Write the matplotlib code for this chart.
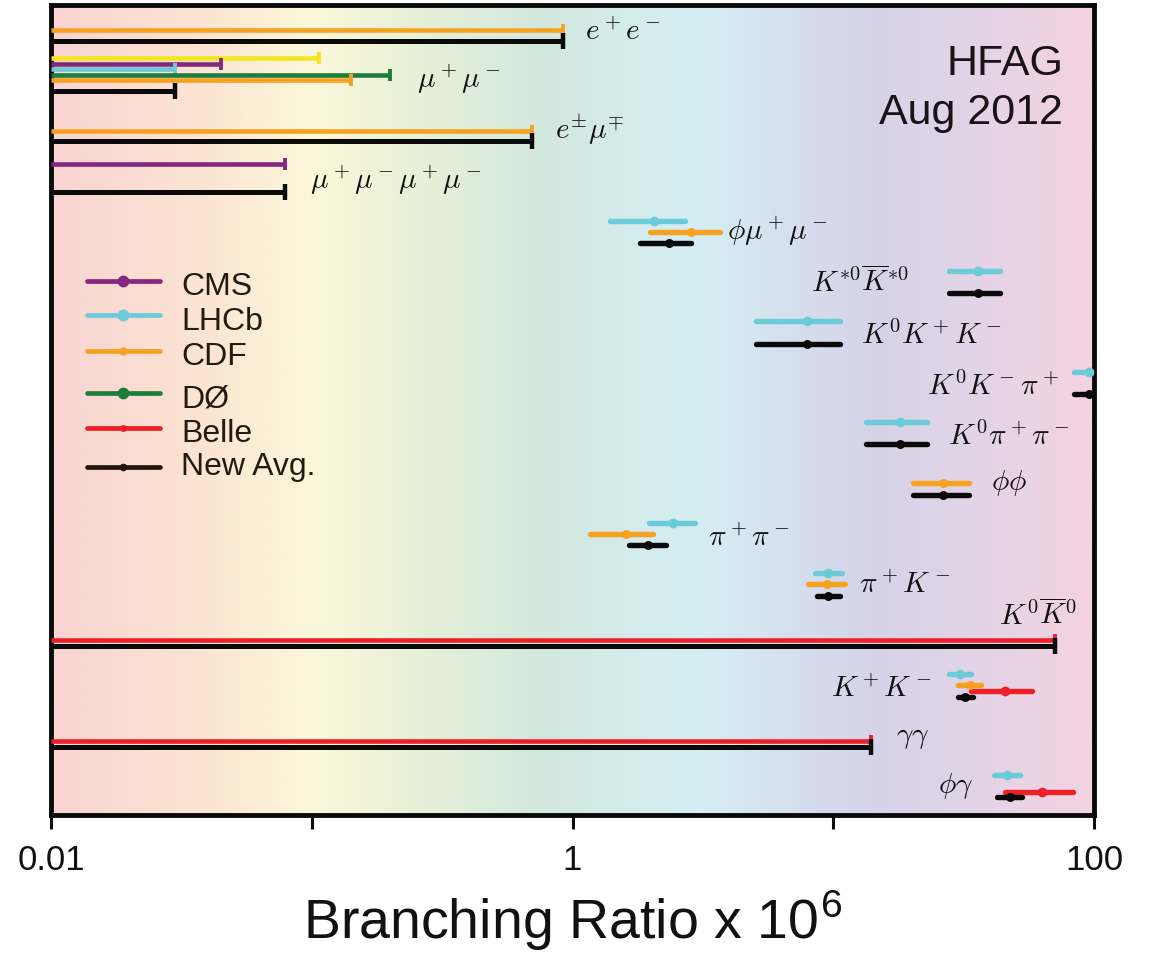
import numpy as np
import matplotlib
matplotlib.use("Agg")
import matplotlib.pyplot as plt
from matplotlib.lines import Line2D
from matplotlib.colors import LinearSegmentedColormap
from matplotlib.ticker import NullLocator

plt.rcParams['font.family'] = ['Liberation Sans', 'DejaVu Sans']
plt.rcParams['mathtext.fontset'] = 'cm'

W, H = 1151, 955

# ---------------- data (branching ratios, units of 1e-6) ----------------
decays = ["ee", "mumu", "emu", "4mu", "phimumu", "KstKst", "K0KK", "K0Kpi",
          "K0pipi", "phiphi", "pipi", "piK", "K0K0", "KK", "gg", "phig"]
decay_labels = [r"$e^+e^-$", r"$\mu^+\mu^-$", r"$e^{\pm}\mu^{\mp}$",
                r"$\mu^+\mu^-\mu^+\mu^-$", r"$\phi\mu^+\mu^-$",
                r"$K^{*0}\overline{K}^{*0}$", r"$K^0K^+K^-$", r"$K^0K^-\pi^+$",
                r"$K^0\pi^+\pi^-$", r"$\phi\phi$", r"$\pi^+\pi^-$", r"$\pi^+K^-$",
                r"$K^0\overline{K}^0$", r"$K^+K^-$", r"$\gamma\gamma$", r"$\phi\gamma$"]

# upper limits
limit_decay = ["ee", "ee", "mumu", "mumu", "mumu", "mumu", "mumu", "mumu",
               "emu", "emu", "4mu", "4mu", "K0K0", "K0K0", "gg", "gg"]
limit_expt = ["CDF", "Avg", "ATLAS", "CMS", "LHCb", "D0", "CDF", "Avg",
              "CDF", "Avg", "CMS", "Avg", "Belle", "Avg", "Belle", "Avg"]
limit_value = [0.92, 0.92, 0.107, 0.045, 0.030, 0.20, 0.142, 0.030,
               0.70, 0.70, 0.079, 0.079, 71.0, 71.0, 14.0, 14.0]

# measurements: central value with the lower and upper edges of the interval
meas_decay = ["phimumu", "phimumu", "phimumu", "KstKst", "KstKst", "K0KK", "K0KK",
              "K0Kpi", "K0Kpi", "K0pipi", "K0pipi", "phiphi", "phiphi",
              "pipi", "pipi", "pipi", "piK", "piK", "piK",
              "KK", "KK", "KK", "KK", "phig", "phig", "phig"]
meas_expt = ["LHCb", "CDF", "Avg", "LHCb", "Avg", "LHCb", "Avg",
             "LHCb", "Avg", "LHCb", "Avg", "CDF", "Avg",
             "LHCb", "CDF", "Avg", "LHCb", "CDF", "Avg",
             "LHCb", "CDF", "Belle", "Avg", "LHCb", "Belle", "Avg"]
meas_value = [2.06, 2.84, 2.34, 35.8, 35.8, 7.9, 7.9,
              95.7, 95.7, 18.0, 18.0, 26.3, 26.3,
              2.42, 1.61, 1.95, 9.58, 9.44, 9.55,
              30.6, 33.4, 45.7, 32.1, 46.4, 63.2, 47.6]
meas_low = [1.39, 1.99, 1.81, 27.8, 27.8, 5.04, 5.04,
            83.8, 83.8, 13.3, 13.3, 20.3, 20.3,
            1.96, 1.17, 1.64, 8.49, 7.98, 8.65,
            27.7, 30.2, 33.7, 30.0, 41.2, 45.5, 42.4]
meas_high = [2.69, 3.67, 2.86, 43.6, 43.6, 10.6, 10.6,
             109.0, 109.0, 22.8, 22.8, 33.1, 33.1,
             2.94, 2.03, 2.28, 10.8, 11.1, 10.6,
             33.7, 36.8, 57.7, 34.5, 52.0, 82.8, 52.9]

xticks = [0.01, 0.1, 1, 10, 100]
xtick_labels = ["0.01", "", "1", "", "100"]

# ---------------- layout ----------------
# vertical track (pixel row) of every entry
track = {
    ("ee", "CDF"): 30, ("ee", "Avg"): 41,
    ("mumu", "ATLAS"): 58, ("mumu", "CMS"): 63.5, ("mumu", "LHCb"): 69,
    ("mumu", "D0"): 74.5, ("mumu", "CDF"): 80, ("mumu", "Avg"): 91,
    ("emu", "CDF"): 131, ("emu", "Avg"): 141,
    ("4mu", "CMS"): 164, ("4mu", "Avg"): 192,
    ("phimumu", "LHCb"): 220.5, ("phimumu", "CDF"): 231.5, ("phimumu", "Avg"): 242.5,
    ("KstKst", "LHCb"): 270.5, ("KstKst", "Avg"): 293,
    ("K0KK", "LHCb"): 321, ("K0KK", "Avg"): 344,
    ("K0Kpi", "LHCb"): 371.5, ("K0Kpi", "Avg"): 394,
    ("K0pipi", "LHCb"): 421.5, ("K0pipi", "Avg"): 444,
    ("phiphi", "CDF"): 483, ("phiphi", "Avg"): 495,
    ("pipi", "LHCb"): 522.5, ("pipi", "CDF"): 534, ("pipi", "Avg"): 545,
    ("piK", "LHCb"): 572.5, ("piK", "CDF"): 584, ("piK", "Avg"): 595.5,
    ("K0K0", "Belle"): 640, ("K0K0", "Avg"): 645.5,
    ("KK", "LHCb"): 674, ("KK", "CDF"): 685, ("KK", "Belle"): 691, ("KK", "Avg"): 696.5,
    ("gg", "Belle"): 740.5, ("gg", "Avg"): 747,
    ("phig", "LHCb"): 775, ("phig", "Belle"): 791.5, ("phig", "Avg"): 796.5,
}
# label anchor (left x, centre y) in pixels
label_pos = {
    "ee": (585, 32), "mumu": (417, 79), "emu": (555, 129), "4mu": (310, 180),
    "phimumu": (727, 231), "KstKst": (811, 282), "K0KK": (861, 335),
    "K0Kpi": (927, 386), "K0pipi": (948, 436), "phiphi": (991, 483),
    "pipi": (708, 538), "piK": (859, 585), "K0K0": (999, 615),
    "KK": (831, 689), "gg": (896, 737), "phig": (938, 786),
}

colors = {"CMS": "#852680", "LHCb": "#6CCBD8", "CDF": "#F7A121", "D0": "#1E7D3E",
          "Belle": "#ED2027", "Avg": "#0a0a0a", "ATLAS": "#F1E71C"}
msize = {"CMS": 8, "LHCb": 7, "CDF": 6.5, "D0": 8, "Belle": 7, "Avg": 6.5}

AX_L, AX_R, AX_T, AX_B = 51, 1094, 5, 815

fig = plt.figure(figsize=(W / 100, H / 100), dpi=100)
rect = [AX_L / W, 1 - AX_B / H, (AX_R - AX_L) / W, (AX_B - AX_T) / H]

# colour wash behind the plot
bg = fig.add_axes(rect, zorder=0)
stops = [(0.00, (249, 212, 210)), (0.14, (251, 228, 210)), (0.25, (251, 247, 218)),
         (0.36, (230, 240, 216)), (0.47, (210, 232, 222)), (0.62, (213, 238, 244)),
         (0.79, (214, 211, 232)), (0.91, (230, 212, 230)), (1.00, (244, 210, 226))]
cmap = LinearSegmentedColormap.from_list(
    "wash", [(p, tuple(c / 255 for c in rgb)) for p, rgb in stops])
bg.imshow(np.linspace(0, 1, 512)[None, :], cmap=cmap, aspect="auto",
          extent=[0, 1, 0, 1], interpolation="bilinear")
bg.axis("off")

ax = fig.add_axes(rect, zorder=1)
ax.set_facecolor("none")
ax.set_xscale("log")
ax.set_xlim(0.01, 100)
ax.set_ylim(AX_B, AX_T)

# upper limits: bar from the left edge with a closing tick
for d, e, v in zip(limit_decay, limit_expt, limit_value):
    y = track[(d, e)]
    is_avg = e == "Avg"
    ax.plot([0.01, v], [y, y], color=colors[e], lw=3.6 if is_avg else 3.3,
            solid_capstyle="butt", zorder=3)
    ax.plot([v], [y], marker="|", ms=11 if is_avg else 8,
            mew=3.2 if is_avg else 2.8, color=colors[e], zorder=3)

# measurements with intervals
for d, e, v, lo, hi in zip(meas_decay, meas_expt, meas_value, meas_low, meas_high):
    y = track[(d, e)]
    ax.plot([lo, hi], [y, y], color=colors[e], lw=3.9,
            solid_capstyle="round", zorder=3)
    ax.plot([v], [y], marker="o", ms=msize[e], color=colors[e], mec="none", zorder=4)

for d, lab in zip(decays, decay_labels):
    px, py = label_pos[d]
    fig.text(px / W, 1 - py / H, lab, fontsize=21, ha="left", va="center",
             color="#111111", zorder=5)

# axes styling
for s in ax.spines.values():
    s.set_linewidth(3.5)
    s.set_color("#0a0a0a")
ax.set_yticks([])
ax.set_xticks(xticks)
ax.set_xticklabels(xtick_labels)
ax.xaxis.set_minor_locator(NullLocator())
ax.tick_params(axis="x", direction="out", length=10, width=2.2, pad=11,
               labelsize=25, colors="#0a0a0a", labelcolor="#111111")
ax.set_xlabel(r"Branching Ratio x 10$^{\mathregular{6}}$", fontsize=40,
              labelpad=8, color="#111111")

# legend
leg_names = ["CMS", "LHCb", "CDF", "DØ", "Belle", "New Avg."]
leg_keys = ["CMS", "LHCb", "CDF", "D0", "Belle", "Avg"]
leg_rows = [281, 315, 351, 393, 428, 467]
leg_base = [295, 330, 365, 407, 442, 475]
leg_ms = [8.5, 8.5, 6, 8.5, 5, 5.5]
for name, key, yr, yb, ms in zip(leg_names, leg_keys, leg_rows, leg_base, leg_ms):
    fy = 1 - yr / H
    fig.add_artist(Line2D([87 / W, 160 / W], [fy, fy], lw=3.4,
                          color=colors[key] if key != "Avg" else "#24160f",
                          solid_capstyle="round", zorder=6))
    fig.add_artist(Line2D([123 / W], [fy], marker="o", ms=ms, mec="none",
                          color=colors[key] if key != "Avg" else "#24160f", zorder=6))
    fig.text(181 / W, 1 - yb / H, name, fontsize=23, ha="left", va="baseline",
             color="#231a12", zorder=6)

fig.text(1063 / W, 1 - 75 / H, "HFAG", fontsize=31, ha="right", va="baseline",
         color="#1a1218", zorder=6)
fig.text(1063 / W, 1 - 124 / H, "Aug 2012", fontsize=31, ha="right", va="baseline",
         color="#1a1218", zorder=6)

fig.savefig("out.png", dpi=100)
